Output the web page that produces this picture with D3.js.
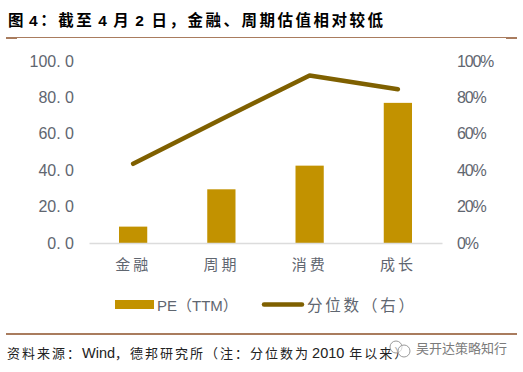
<!DOCTYPE html>
<html>
<head>
<meta charset="utf-8">
<script src="https://cdn.jsdelivr.net/npm/d3@7/dist/d3.min.js"></script>
<style>
  html, body { margin: 0; padding: 0; background: #fff; }
  svg { display: block; }
  text { font-family: "Liberation Sans", "Noto Sans CJK SC", sans-serif; }
</style>
</head>
<body>
<script>
const w = 523; // width of page
const h = 372; // height of page
const margin = { top: 61, right: 81, bottom: 129, left: 89 };

const categories = ["金融", "周期", "消费", "成长"];
const peValues = [9, 29.5, 42.5, 77];
const percentileValues = [0.435, 0.68, 0.92, 0.845];
const leftTicks = [0, 20, 40, 60, 80, 100];
const rightTicks = [0, 0.2, 0.4, 0.6, 0.8, 1];

const barColor = "#c29200";
const lineColor = "#7f6000";
const ruleColor = "#a97c5e";
const labelColor = "#5f6670";

const svg = d3.select("body")
    .append("svg")
    .attr("width", w)
    .attr("height", h);

// Text broken into runs, digits and latin sit a little apart from the CJK
function addRuns(sel, runs) {
    runs.forEach(r => {
        sel.append("tspan")
            .attr("dx", r.dx || 0)
            .attr("font-size", r.size || null)
            .attr("letter-spacing", r.spacing === undefined ? null : r.spacing)
            .text(r.text);
    });
}

// Title and rules
svg.append("text")
    .attr("x", 8)
    .attr("y", 26)
    .attr("font-size", 15.5)
    .attr("font-weight", 700)
    .attr("letter-spacing", 2.5)
    .attr("fill", "#000")
    .call(addRuns, [
        { text: "图" },
        { text: "4", dx: 3 },
        { text: "：截至" },
        { text: "4", dx: 4 },
        { text: "月", dx: 4 },
        { text: "2", dx: 4 },
        { text: "日，金融、周期估值相对较低", dx: 5 }
    ]);

svg.append("line")
    .attr("x1", 6).attr("x2", 517)
    .attr("y1", 37.5).attr("y2", 37.5)
    .attr("stroke", ruleColor)
    .attr("stroke-width", 1);

svg.append("rect").attr("x", 6).attr("y", 37).attr("width", 11).attr("height", 2).attr("fill", ruleColor);
svg.append("rect").attr("x", 506).attr("y", 37).attr("width", 11).attr("height", 2).attr("fill", ruleColor);

// Scales
const xScale = d3.scaleBand()
    .domain(categories)
    .range([margin.left, w - margin.right])
    .paddingInner(0.68)
    .paddingOuter(0.34);

const xPoint = d => xScale(d) + xScale.bandwidth() / 2;

const yLeft = d3.scaleLinear()
    .domain([0, 100])
    .range([h - margin.bottom, margin.top]);

const yRight = d3.scaleLinear()
    .domain([0, 1])
    .range([h - margin.bottom, margin.top]);

// Bars
svg.selectAll("rect.bar")
    .data(categories)
    .enter()
    .append("rect")
    .attr("class", "bar")
    .attr("x", d => xScale(d))
    .attr("y", (d, i) => yLeft(peValues[i]))
    .attr("width", xScale.bandwidth())
    .attr("height", (d, i) => yLeft(0) - yLeft(peValues[i]))
    .attr("fill", barColor);

// Axes
const xAxis = d3.axisBottom(xScale).tickSize(0).tickPadding(16);
const gx = svg.append("g")
    .attr("transform", `translate(0,${h - margin.bottom})`)
    .call(xAxis);
gx.select(".domain").attr("stroke", "#dcdcdc").attr("stroke-width", 1.5);
gx.selectAll("text")
    .attr("font-size", 15)
    .attr("letter-spacing", 3)
    .attr("fill", labelColor);

const gl = svg.append("g")
    .attr("transform", `translate(${margin.left - 15},0)`)
    .call(d3.axisLeft(yLeft).tickValues(leftTicks).tickSize(0).tickPadding(0)
        .tickFormat(d => d.toFixed(1).replace(".", ". ")));
gl.select(".domain").remove();
gl.selectAll("text")
    .attr("font-size", 16)
    .attr("fill", labelColor)
    .style("white-space", "pre");

const gr = svg.append("g")
    .attr("transform", `translate(457,0)`)
    .call(d3.axisRight(yRight).tickValues(rightTicks).tickSize(0).tickPadding(0)
        .tickFormat(d3.format(".0%")));
gr.select(".domain").remove();
gr.selectAll("text")
    .attr("font-size", 16)
    .attr("letter-spacing", -1.2)
    .attr("fill", labelColor);

// Line on right axis
const line = d3.line()
    .x(d => xPoint(d))
    .y((d, i) => yRight(percentileValues[i]));

svg.append("path")
    .datum(categories)
    .attr("d", line)
    .attr("fill", "none")
    .attr("stroke", lineColor)
    .attr("stroke-width", 4.5)
    .attr("stroke-linecap", "round")
    .attr("stroke-linejoin", "round");

// Legend
svg.append("rect")
    .attr("x", 115).attr("y", 300)
    .attr("width", 39).attr("height", 9)
    .attr("fill", barColor);
svg.append("text")
    .attr("x", 157).attr("y", 311)
    .attr("font-size", 15)
    .attr("fill", labelColor)
    .text("PE（TTM）");
svg.append("line")
    .attr("x1", 264).attr("x2", 302)
    .attr("y1", 304.5).attr("y2", 304.5)
    .attr("stroke", lineColor)
    .attr("stroke-width", 4.5)
    .attr("stroke-linecap", "round");
svg.append("text")
    .attr("x", 307).attr("y", 311)
    .attr("font-size", 15.5)
    .attr("letter-spacing", 2.8)
    .attr("fill", labelColor)
    .text("分位数（右）");

// Footer
svg.append("line")
    .attr("x1", 6).attr("x2", 517)
    .attr("y1", 334).attr("y2", 334)
    .attr("stroke", ruleColor)
    .attr("stroke-width", 2);

svg.append("text")
    .attr("x", 7).attr("y", 358)
    .attr("font-size", 13)
    .attr("letter-spacing", 2)
    .attr("fill", "#222")
    .call(addRuns, [
        { text: "资料来源：" },
        { text: "Wind", size: 14.5, spacing: 0 },
        { text: "，德邦研究所（注：分位数为" },
        { text: "2010", dx: 2, size: 14.5, spacing: 0 },
        { text: "年以来）", dx: 5 }
    ]);

// Watermark
const mark = svg.append("g").attr("fill", "#fff").attr("fill-opacity", 0.6).attr("stroke", "#9a9a9a");
mark.append("circle").attr("cx", 396).attr("cy", 347).attr("r", 6);
mark.append("circle").attr("cx", 404).attr("cy", 351).attr("r", 6);
svg.append("text")
    .attr("x", 416).attr("y", 353)
    .attr("font-size", 13)
    .attr("fill", "#7b7b7b")
    .text("吴开达策略知行");
</script>
</body>
</html>
